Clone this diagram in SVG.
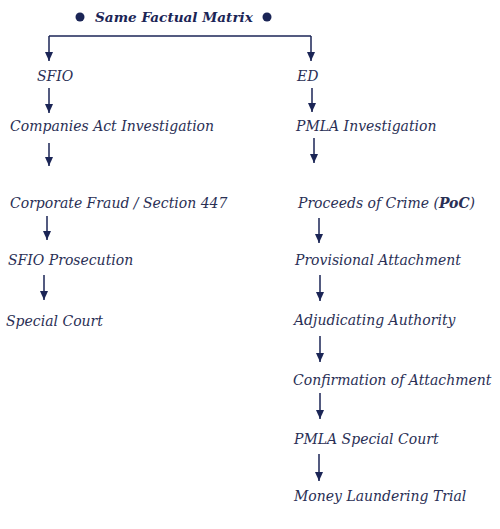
<svg xmlns="http://www.w3.org/2000/svg" width="500" height="529" viewBox="0 0 500 529">
<style>
.t{font-family:"DejaVu Serif","Liberation Serif",serif;font-style:italic;font-size:14px;fill:#2a2f55}
.b{font-weight:bold}
.title{font-family:"DejaVu Serif","Liberation Serif",serif;font-style:italic;font-weight:bold;font-size:13.6px;fill:#1b2556}
.c{stroke:#1b2556;stroke-width:1.5;fill:none}
</style>
<defs>
<marker id="ah" markerUnits="userSpaceOnUse" markerWidth="9" markerHeight="9" refX="9" refY="4" orient="auto">
<path d="M0,0 L9,4 L0,8 z" fill="#1b2556"/>
</marker>
</defs>
<rect width="500" height="529" fill="#fff"/>
<g id="title">
<circle cx="80" cy="17" r="4.5" fill="#1b2556"/>
<circle cx="267" cy="17" r="4.5" fill="#1b2556"/>
<text class="title" x="95" y="22">Same Factual Matrix</text>
</g>
<g id="connectors">
<path class="c" d="M49,36 H311"/>
<line class="c" x1="49" y1="36" x2="49" y2="61" marker-end="url(#ah)"/>
<line class="c" x1="311" y1="36" x2="311" y2="61" marker-end="url(#ah)"/>
<line class="c" x1="49" y1="88" x2="49" y2="113" marker-end="url(#ah)"/>
<line class="c" x1="49" y1="143" x2="49" y2="166" marker-end="url(#ah)"/>
<line class="c" x1="47" y1="216" x2="47" y2="240" marker-end="url(#ah)"/>
<line class="c" x1="44" y1="275" x2="44" y2="300" marker-end="url(#ah)"/>
<line class="c" x1="312" y1="88" x2="312" y2="112" marker-end="url(#ah)"/>
<line class="c" x1="314" y1="138" x2="314" y2="163" marker-end="url(#ah)"/>
<line class="c" x1="319" y1="218" x2="319" y2="243" marker-end="url(#ah)"/>
<line class="c" x1="320" y1="275" x2="320" y2="301" marker-end="url(#ah)"/>
<line class="c" x1="320" y1="336" x2="320" y2="362" marker-end="url(#ah)"/>
<line class="c" x1="320" y1="393" x2="320" y2="419" marker-end="url(#ah)"/>
<line class="c" x1="319" y1="454" x2="319" y2="481" marker-end="url(#ah)"/>
</g>
<g id="sfio"><text class="t" x="37" y="81">SFIO</text></g>
<g id="ed"><text class="t" x="297" y="81">ED</text></g>
<g id="companies-act"><text class="t" x="10" y="131">Companies Act Investigation</text></g>
<g id="corporate-fraud"><text class="t" x="10" y="208">Corporate Fraud / Section 447</text></g>
<g id="sfio-prosecution"><text class="t" x="8" y="265">SFIO Prosecution</text></g>
<g id="special-court"><text class="t" x="6" y="326">Special Court</text></g>
<g id="pmla-investigation"><text class="t" x="296" y="131">PMLA Investigation</text></g>
<g id="poc"><text class="t" x="298" y="208">Proceeds of Crime (<tspan class="b">PoC</tspan>)</text></g>
<g id="provisional"><text class="t" x="295" y="265">Provisional Attachment</text></g>
<g id="adjudicating"><text class="t" x="294" y="325">Adjudicating Authority</text></g>
<g id="confirmation"><text class="t" x="293" y="385">Confirmation of Attachment</text></g>
<g id="pmla-court"><text class="t" x="294" y="444">PMLA Special Court</text></g>
<g id="trial"><text class="t" x="294" y="501">Money Laundering Trial</text></g>
</svg>
